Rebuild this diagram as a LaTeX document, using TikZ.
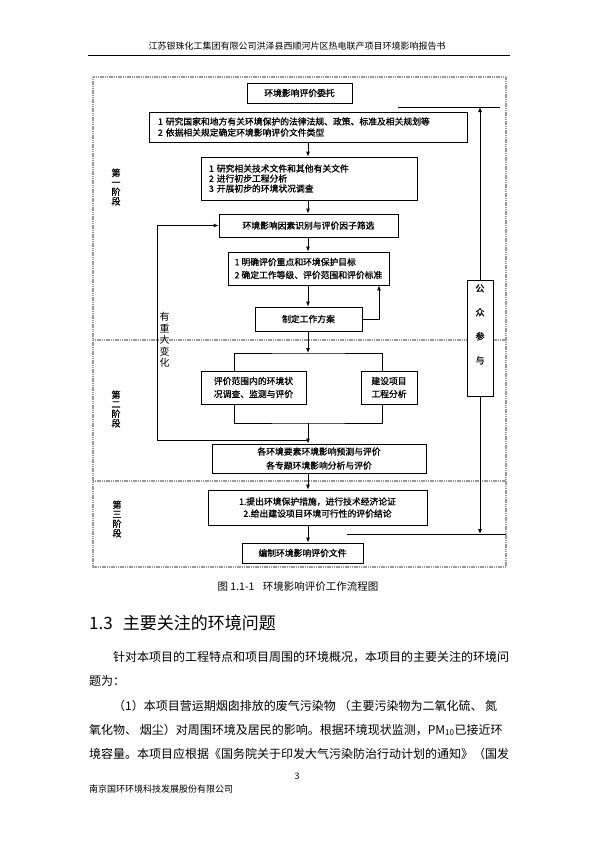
\documentclass[tikz,border=0pt]{standalone}
\usepackage{fontspec}
\newfontfamily\cjk{Noto Sans CJK SC}
\newfontfamily\cjkb[FakeBold=1]{Noto Sans CJK SC}
\usetikzlibrary{arrows.meta}
\tikzset{
  flowbox/.style={draw, line width=0.8pt, inner sep=0pt, align=center, fill=white,
    font=\cjkb\fontsize{8.8}{11}\selectfont},
  boxlead/.style={font=\cjkb\fontsize{8.8}{#1}\selectfont},
  phase/.style={align=center, inner sep=0pt, font=\cjkb\fontsize{9}{9.5}\selectfont},
  bodyline/.style={anchor=west, inner sep=0pt, font=\cjk\fontsize{12}{14}\selectfont},
  stagerule/.style={gray!80, line width=1.1pt, dash pattern=on 1.2pt off 0.6pt},
  link/.style={line width=0.8pt},
}
\begin{document}
\begin{tikzpicture}[x=1pt, y=-1pt, >={Latex[length=5pt,width=4pt]}]
    % Page
    \fill[white] (0,0) rectangle (595,841);
    \useasboundingbox (0,0) rectangle (595,841);
    % Running head
    \node[inner sep=0pt, font=\cjk\fontsize{9}{11}\selectfont] (head) at (297,46) {江苏银珠化工集团有限公司洪泽县西顺河片区热电联产项目环境影响报告书};
    \coordinate (ruleL) at (88,55);
    \coordinate (ruleR) at (510,55);
    \draw[line width=0.6pt] (ruleL) -- (ruleR);
    % Stage frame and dividers
    \draw[stagerule] (93,77) rectangle (506,567);
    \draw[stagerule] (93,340) -- (506,340);
    \draw[stagerule] (93,481) -- (506,481);
    % Helper coordinates
    \coordinate (spine) at (308,0);
    \coordinate (loopx) at (157,0);
    \coordinate (loopStart) at (308,440);
    \coordinate (fbx) at (379,0);
    \coordinate (brL) at (234,0);
    \coordinate (brR) at (382,0);
    \coordinate (brTop) at (308,353);
    \coordinate (brBot) at (308,423);
    \coordinate (pubTopL) at (398,107);
    \coordinate (pubTopR) at (500,107);
    \coordinate (pubBotL) at (347,534);
    \coordinate (pubBotR) at (506,534);
    % Stage labels
    \node[phase] (phase1) at (116,187) {第\\一\\阶\\段};
    \node[phase] (phase2) at (116,409) {第\\二\\阶\\段};
    \node[phase] (phase3) at (117,519) {第\\三\\阶\\段};
    % Flow boxes
    \node[flowbox, minimum width=105pt, minimum height=20pt] (entrust) at (299.5,93) {环境影响评价委托};
    \node[flowbox, minimum width=318pt, minimum height=30pt, text width=300pt, align=left] (laws) at (308,127)
        {1 研究国家和地方有关环境保护的法律法规、政策、标准及相关规划等\\2 依据相关规定确定环境影响评价文件类型};
    \node[flowbox, boxlead=10, minimum width=216pt, minimum height=43pt, text width=200pt, align=left] (prelim) at (309,178.5)
        {1 研究相关技术文件和其他有关文件\\2 进行初步工程分析\\3 开展初步的环境状况调查};
    \node[flowbox, minimum width=179pt, minimum height=23pt] (factor) at (308.5,225.5) {环境影响因素识别与评价因子筛选};
    \node[flowbox, boxlead=13, minimum width=161pt, minimum height=33pt, align=left] (target) at (308.5,268.5)
        {1 明确评价重点和环境保护目标\\2 确定工作等级、评价范围和评价标准};
    \node[flowbox, minimum width=107pt, minimum height=24pt] (plan) at (308.5,319) {制定工作方案};
    \node[flowbox, boxlead=13, minimum width=105pt, minimum height=33pt] (survey) at (253.5,387.5) {评价范围内的环境状\\况调查、监测与评价};
    \node[flowbox, boxlead=13, minimum width=56pt, minimum height=33pt] (engin) at (389,387.5) {建设项目\\工程分析};
    \node[flowbox, boxlead=14, minimum width=214pt, minimum height=29pt] (predict) at (319,458.5) {各环境要素环境影响预测与评价\\各专题环境影响分析与评价};
    \node[flowbox, boxlead=12, minimum width=219pt, minimum height=35pt] (measure) at (317.5,507.5) {1.提出环境保护措施，进行技术经济论证\\2.给出建设项目环境可行性的评价结论};
    \node[flowbox, minimum width=121pt, minimum height=20pt] (compile) at (302.5,553) {编制环境影响评价文件};
    \node[flowbox, font=\cjkb\fontsize{9}{24}\selectfont, minimum width=26pt, minimum height=116pt] (public) at (480,338)
        {公\\众\\参\\与\rule[-28pt]{0pt}{28pt}};
    % Main chain
    \draw[link,->] (laws.south -| spine) -- (prelim.north -| spine);
    \draw[link,->] (prelim.south -| spine) -- (factor.north -| spine);
    \draw[link,->] (factor.south -| spine) -- (target.north -| spine);
    \draw[link,->] (target.south -| spine) -- (plan.north -| spine);
    \draw[link,->] (plan.south -| spine) -- (brTop);
    % Split and merge
    \draw[link] (survey.north -| brL) |- (brTop) -| (engin.north -| brR);
    \draw[link] (survey.south -| brL) |- (brBot) -| (engin.south -| brR);
    \draw[link,->] (brBot) -- (predict.north -| spine);
    \draw[link,->] (predict.south -| spine) -- (measure.north -| spine);
    \draw[link,->] (measure.south -| spine) -- (compile.north -| spine);
    % Loop back on major change
    \draw[link,->] (loopStart) -| (loopx |- factor.west) -- (factor.west);
    \node[inner sep=0pt, align=center, font=\cjk\fontsize{10}{11.5}\selectfont] (change) at (164.5,340) {有\\重\\大\\变\\化};
    % Feedback to targets
    \draw[link,->] (plan.east) -| (target.south -| fbx);
    % Public participation
    \draw[link] (pubTopL) -- (pubTopR);
    \draw[link,->] (public.north) -- (public.north |- pubTopL);
    \draw[link,->] (public.south) -- (public.south |- pubBotL);
    \draw[link] (pubBotL) -- (pubBotR);
    % Caption and text below
    \node[inner sep=0pt, font=\cjk\fontsize{10.5}{12}\selectfont] (caption) at (298,587) {图 1.1-1\hspace{0.8em}环境影响评价工作流程图};
    \node[bodyline, font=\cjk\fontsize{17}{20}\selectfont] (sec) at (89,623) {1.3\hspace{0.6em}主要关注的环境问题};
    \node[bodyline] (para1) at (113,657) {针对本项目的工程特点和项目周围的环境概况，本项目的主要关注的环境问};
    \node[bodyline] (para2) at (89,681) {题为：};
    \node[bodyline] (para3) at (113,706) {（1）本项目营运期烟囱排放的废气污染物 （主要污染物为二氧化硫、 氮};
    \node[bodyline] (para4) at (89,730) {氧化物、 烟尘）对周围环境及居民的影响。根据环境现状监测，PM\textsubscript{10}已接近环};
    \node[bodyline] (para5) at (89,754) {境容量。本项目应根据《国务院关于印发大气污染防治行动计划的通知》（国发};
    % Footer
    \node[inner sep=0pt, font=\cjk\fontsize{9}{11}\selectfont] (pageno) at (297,776) {3};
    \node[anchor=west, inner sep=0pt, font=\cjk\fontsize{9}{11}\selectfont] (foot) at (89,789) {南京国环环境科技发展股份有限公司};
\end{tikzpicture}
\end{document}
